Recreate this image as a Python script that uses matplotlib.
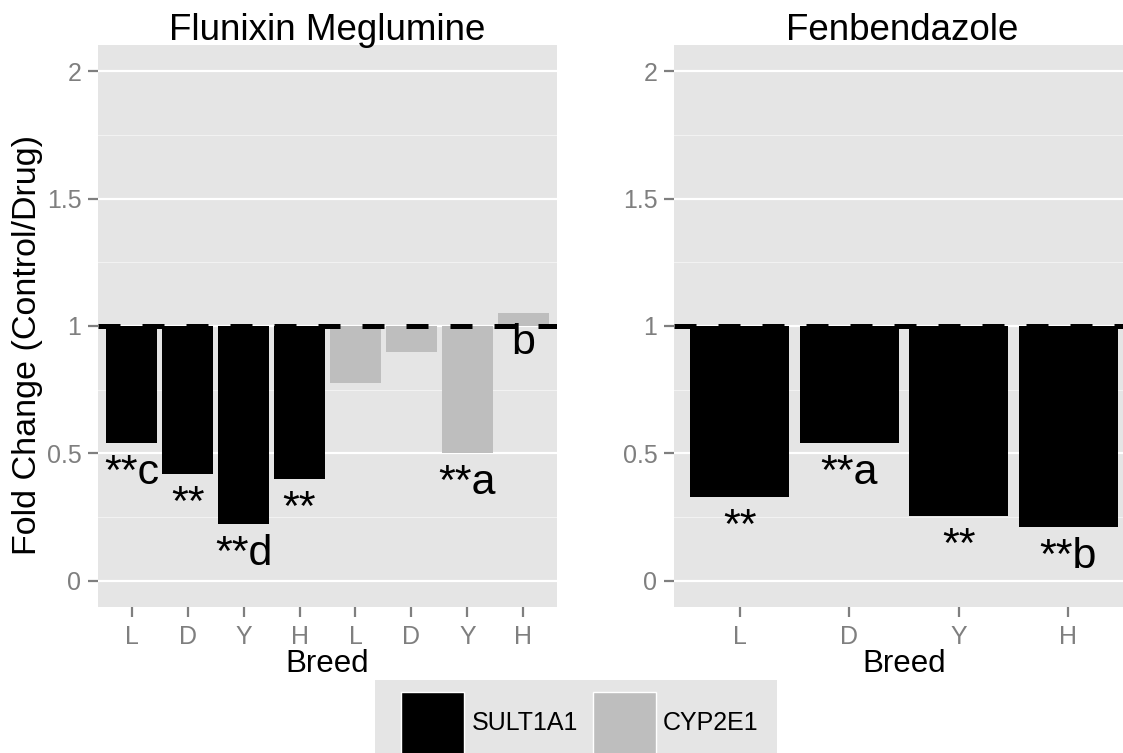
import numpy as np
import matplotlib
matplotlib.use("Agg")
import matplotlib.pyplot as plt
from matplotlib.patches import Rectangle

plt.rcParams['font.family'] = ['Liberation Sans', 'DejaVu Sans']

# =========================================================
# data
# =========================================================
flx_breeds = ["L", "D", "Y", "H", "L", "D", "Y", "H"]
flx_genes = ["SULT1A1"] * 4 + ["CYP2E1"] * 4
flx_fold = [0.542, 0.421, 0.225, 0.399, 0.775, 0.897, 0.501, 1.05]
flx_labels = ["**c", "**", "**d", "**", "", "", "**a", "b"]

fen_breeds = ["L", "D", "Y", "H"]
fen_genes = ["SULT1A1"] * 4
fen_fold = [0.329, 0.542, 0.256, 0.212]
fen_labels = ["**", "**a", "**", "**b"]

gene_names = ["SULT1A1", "CYP2E1"]
gene_colors = {"SULT1A1": "#000000", "CYP2E1": "#BEBEBE"}

y_major = [0, 0.5, 1, 1.5, 2]
y_major_labels = ["0", "0.5", "1", "1.5", "2"]
y_minor = [0.25, 0.75, 1.25, 1.75]

# =========================================================
# layout helpers (pixel -> figure fraction)
# =========================================================
W, H = 1123, 753
def fx(px):
    return px / W
def fy(py):
    return 1 - py / H

fig = plt.figure(figsize=(W / 100, H / 100), dpi=100)
fig.patch.set_facecolor("white")

GREY50 = "#7F7F7F"


def panel(ax, breeds, genes, fold, labels):
    x = np.arange(1, len(breeds) + 1)
    fold = np.array(fold)
    ax.set_facecolor("#E5E5E5")
    ax.set_axisbelow(True)

    ax.set_yticks(y_major)
    ax.set_yticklabels(y_major_labels)
    ax.set_yticks(y_minor, minor=True)
    ax.grid(axis="y", which="major", color="white", lw=1.6)
    ax.grid(axis="y", which="minor", color="#F2F2F2", lw=0.8)
    ax.grid(axis="x", visible=False)

    ax.bar(x, fold - 1, bottom=1, width=0.9,
           color=[gene_colors[g] for g in genes], lw=0, zorder=2)
    ax.axhline(1, color="black", lw=3.6, ls=(0, (4.4, 4.4)), zorder=3)

    for xi, v, lab in zip(x, fold, labels):
        if lab:
            ax.annotate(lab, (xi, v), xytext=(0, -29.5), textcoords="offset points",
                        ha="center", va="baseline", fontsize=31, zorder=4)

    ax.set_xticks(x)
    ax.set_xticklabels(breeds)
    ax.set_xlim(0.4, len(breeds) + 0.6)
    ax.set_ylim(-0.102, 2.102)
    ax.tick_params(which="major", colors=GREY50, labelsize=18, length=7, width=1.6)
    ax.tick_params(axis="x", pad=6)
    ax.tick_params(axis="y", pad=5)
    ax.tick_params(which="minor", length=0)
    for s in ax.spines.values():
        s.set_visible(False)


ax1 = fig.add_axes([fx(98), fy(607), 459 / W, 562 / H])
panel(ax1, flx_breeds, flx_genes, flx_fold, flx_labels)

ax2 = fig.add_axes([fx(674), fy(607), 460 / W, 562 / H])
panel(ax2, fen_breeds, fen_genes, fen_fold, fen_labels)

# titles and axis titles
fig.text(fx(327), fy(40), "Flunixin Meglumine", ha="center", va="baseline", fontsize=26.5)
fig.text(fx(902), fy(40), "Fenbendazole", ha="center", va="baseline", fontsize=26.5)
fig.text(fx(327), fy(672), "Breed", ha="center", va="baseline", fontsize=22.5)
fig.text(fx(904), fy(672), "Breed", ha="center", va="baseline", fontsize=22.5)
fig.text(fx(28), fy(345), "Fold Change (Control/Drug)", rotation=90,
         ha="center", va="center", fontsize=24.5)

# =========================================================
# legend (bottom, cut by the figure edge like the original)
# =========================================================
fig.patches.append(Rectangle((fx(375), fy(775)), (777 - 375) / W, (775 - 680) / H,
                             transform=fig.transFigure, facecolor="#E5E5E5", lw=0))
key_left = [401, 593]
text_left = [472, 663]
for name, kx, tx in zip(gene_names, key_left, text_left):
    fig.patches.append(Rectangle((fx(kx), fy(755)), 63 / W, 63 / H,
                                 transform=fig.transFigure, facecolor=gene_colors[name],
                                 edgecolor="white", lw=1))
    fig.text(fx(tx), fy(723), name, ha="left", va="center", fontsize=18)

fig.savefig("out.png", dpi=100)
